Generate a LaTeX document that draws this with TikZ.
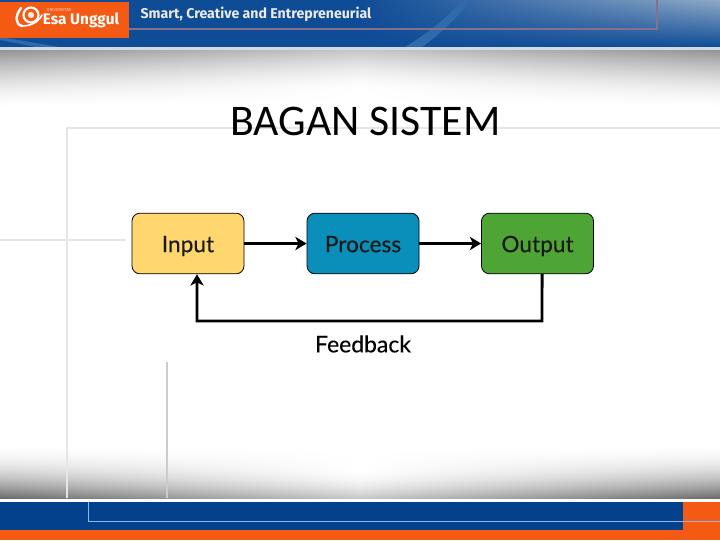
\documentclass[tikz,border=0pt]{standalone}
\usepackage{fontspec}
\setmainfont{Carlito}
\newfontfamily\boxfont[FakeBold=0.35]{Lato}
\newfontfamily\labelfont[FakeBold=0.15]{Lato}
\newfontfamily\headfont{Fira Sans}
\usetikzlibrary{arrows.meta}

\definecolor{headblue}{HTML}{0F4C96}
\definecolor{headlight}{HTML}{8FA9C6}
\definecolor{swooshblue}{HTML}{2F6AAA}
\definecolor{footblue}{HTML}{03418C}
\definecolor{footline}{HTML}{8FB8E6}
\definecolor{headline}{HTML}{86708F}
\definecolor{esaorange}{HTML}{F55A14}
\definecolor{inputcol}{HTML}{FFD76E}
\definecolor{processcol}{HTML}{0A8FBB}
\definecolor{outputcol}{HTML}{4EA535}
\definecolor{frameline}{HTML}{E6E6E6}

\tikzset{
  blockbox/.style={draw=black, line width=0.6pt, rounded corners=6pt, minimum width=84pt, minimum height=45.5pt, text height=14pt, text depth=1pt, font=\boxfont\fontsize{17}{20}\selectfont, text=black!90},
  flowline/.style={-{Stealth[length=8.5pt,width=10pt,inset=2.5pt]}, line width=2.2pt},
  panelline/.style={draw=frameline, line width=0.8pt}
}

\begin{document}
\begin{tikzpicture}[x=0.75pt,y=-0.75pt]
\useasboundingbox (0,0) rectangle (720,540);
% background
\fill[white] (0,0) rectangle (720,540);
% upper shaded band
\foreach \row in {50,...,110}{
  \pgfmathsetmacro{\edgeval}{42*max(0,1-(\row-50)/58)^1.6}
  \pgfmathsetmacro{\midval}{22*max(0,1-(\row-50)/40)^1.6}
  \fill[left color=black!\edgeval, right color=black!\edgeval, middle color=black!\midval] (0,\row) rectangle (720,\row+1.5);
}
% lower shaded band
\foreach \row in {440,...,498}{
  \pgfmathsetmacro{\edgeval}{58*max(0,1-(498-\row)/56)^2}
  \pgfmathsetmacro{\midval}{22*max(0,1-(498-\row)/30)^2}
  \fill[left color=black!\edgeval, right color=black!\edgeval, middle color=black!\midval] (0,\row) rectangle (720,\row+1.5);
}
% panel lines
\draw[panelline] (67,498) -- (67,128) -- (720,128);
\draw[panelline] (0,240) -- (126,240);
\draw[draw=black!20, line width=0.8pt] (167,362) -- (167,498);
% header
\foreach \row in {0,...,46}{
  \pgfmathsetmacro{\lightval}{100*(1-\row/47)}
  \fill[left color=headblue, right color=headlight!\lightval!headblue, middle color=headblue] (0,\row) rectangle (720,\row+1.5);
}
\fill[swooshblue] (0,32) -- (6,38) -- (60,47) -- (36,47) -- (0,40) -- cycle;
\fill[swooshblue] (405,47) .. controls (430,32) and (450,15) .. (462,0) -- (470,0) .. controls (458,18) and (440,34) .. (422,47) -- cycle;
\fill[white!80!headblue] (0,47) rectangle (720,49.5);
\draw[draw=headline, line width=0.9pt] (129,29) -- (657,29) -- (657,0);
\fill[esaorange] (0,2) rectangle (129,38);
\node (motto) at (256,14.5) {\headfont\fontsize{10.6}{12}\selectfont\color{white!92!black}\textbf{Smart, Creative and Entrepreneurial}};
\node (esalogo) at (81,20.5) {\headfont\fontsize{11.5}{13}\selectfont\color{white}\textbf{Esa Unggul}};
\node (esasmall) at (59,10.5) {\headfont\fontsize{3.2}{4}\selectfont\color{white!75!esaorange}UNIVERSITAS};
\draw[white, line width=1.6pt] (31,15) circle (7.5);
\fill[white!85!esaorange] (31,15) circle (3.2);
\draw[white, line width=1.8pt, line cap=round] (21,8) .. controls (15,16) and (15,24) .. (22,26);
\draw[white, line width=1.2pt, line cap=round] (22,26) .. controls (30,26) and (38,23) .. (42,15);
% footer
\fill[white] (0,499) rectangle (720,502);
\fill[footblue] (0,502) rectangle (720,530);
\fill[esaorange] (0,530) rectangle (720,540);
\fill[esaorange] (683,502) rectangle (720,540);
\draw[draw=footline, line width=0.7pt] (88,502) -- (88,521) -- (720,521);
% title
\node (title) at (365.5,121) {\fontsize{32.8}{36}\selectfont BAGAN SISTEM};
% blocks
\node[blockbox, fill=inputcol] (input) at (188,243.5) {Input};
\node[blockbox, fill=processcol] (process) at (363,243.5) {Process};
\node[blockbox, fill=outputcol] (output) at (537.5,243.5) {Output};
\node[font=\labelfont\fontsize{17.2}{20}\selectfont] (fblabel) at (363,344) {Feedback};
\coordinate (fbright) at (542,321);
\coordinate (fbleft) at (197,321);
% connectors
\draw[flowline] (input) -- (process);
\draw[flowline] (process) -- (output);
\draw[flowline, line join=miter] ([xshift=3.4pt]output.south) -- (fbright) -- (fbleft) -- ([xshift=6.75pt]input.south);
\end{tikzpicture}
\end{document}
